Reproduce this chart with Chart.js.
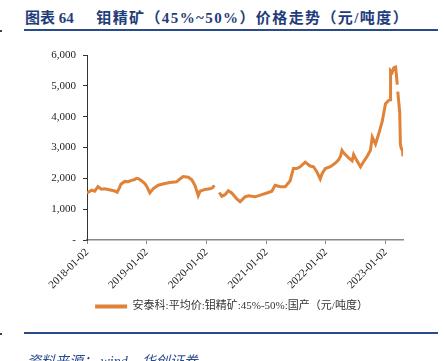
<!DOCTYPE html>
<html>
<head>
<meta charset="utf-8">
<script src="https://cdn.jsdelivr.net/npm/chart.js@4/dist/chart.umd.min.js"></script>
<style>
  html, body { margin: 0; padding: 0; background: #fff; }
  body { width: 444px; height: 361px; position: relative; overflow: hidden; }
  #wrap { position: absolute; left: 0; top: 0; width: 444px; height: 361px; }
  .title { position: absolute; left: 25px; top: 6px; font: bold 15px "Liberation Serif", "Noto Sans CJK SC", serif; color: #1F3D7A; white-space: pre; }
  .title .rest { letter-spacing: 1.4px; }
  .rule { position: absolute; left: 24px; width: 414px; height: 2px; background: #2A4B8A; }
  .mark { position: absolute; left: 0; width: 2px; height: 2px; background: #33415f; }
  .source { position: absolute; left: 27px; top: 350px; font: italic 14px "Liberation Serif", "Noto Sans CJK SC", serif; color: #2A4B8A; white-space: pre; }
</style>
</head>
<body>
<div class="title">图表 64      <span class="rest">钼精矿（45%~50%）价格走势（元/吨度）</span></div>
<div class="rule" style="top:29px"></div>
<div class="mark" style="top:30px"></div>
<div id="wrap"><canvas id="c"></canvas></div>
<div class="rule" style="top:332px"></div>
<div class="mark" style="top:333px"></div>
<div class="source">资料来源： wind，华创证券</div>
<script>
// ---- data ----
const seriesName = '安泰科:平均价:钼精矿:45%-50%:国产（元/吨度）';
const dates = [
 '2018-01-02','2018-01-12','2018-01-31','2018-02-18','2018-03-10','2018-03-31','2018-04-20','2018-05-11','2018-06-01','2018-06-20',
 '2018-07-05','2018-07-20','2018-07-28','2018-08-21','2018-09-10','2018-10-01','2018-10-20','2018-11-01','2018-11-15','2018-12-01',
 '2018-12-20','2019-01-01','2019-01-21','2019-02-10','2019-03-13','2019-04-23','2019-05-24','2019-07-04','2019-07-24','2019-08-13',
 '2019-09-13','2019-10-04','2019-10-24','2019-11-13','2019-11-24','2019-12-24','2020-01-24','2020-02-10','2020-02-19','2020-03-05',
 '2020-03-21','2020-04-05','2020-04-25','2020-05-15','2020-06-05','2020-07-06','2020-07-26','2020-08-25','2020-09-15','2020-10-26',
 '2020-12-06','2021-01-15','2021-02-05','2021-02-25','2021-03-28','2021-04-28','2021-05-28','2021-06-17','2021-07-08','2021-07-28',
 '2021-08-28','2021-09-27','2021-10-18','2021-11-08','2021-11-28','2021-12-09','2021-12-29','2022-01-29','2022-02-28','2022-03-20',
 '2022-04-01','2022-04-10','2022-04-20','2022-05-21','2022-06-11','2022-06-20','2022-07-01','2022-08-01','2022-08-21','2022-09-11',
 '2022-10-01','2022-10-12','2022-11-01','2022-11-21','2022-12-12','2023-01-01','2023-01-22','2023-01-29','2023-02-01','2023-02-11',
 '2023-02-21','2023-03-04','2023-03-14','2023-03-15','2023-03-17','2023-03-29','2023-04-02','2023-04-06','2023-04-15','2023-04-18'
];
const values = [
 1520,1560,1616,1582,1729,1650,1660,1640,1616,1590,
 1548,1700,1810,1900,1890,1933,1960,2001,1985,1923,
 1840,1752,1525,1661,1776,1830,1865,1888,1980,2059,
 2035,1957,1776,1440,1582,1640,1661,1700,1776,null,
 1540,1420,1470,1600,1525,1330,1242,1400,1436,1400,
 1470,1540,1582,1776,1729,1729,1923,2320,2320,2375,
 2525,2400,2375,2205,1980,2150,2320,2375,2490,2603,
 2716,2909,2830,2660,2569,2773,2660,2375,2545,2716,
 2909,3340,3113,3453,3850,4418,4532,4550,5496,5439,
 5587,5609,5041,null,4815,4134,3113,3000,2886,2716
];
const xTickDates = ['2018-01-02','2019-01-02','2020-01-02','2021-01-02','2022-01-02','2023-01-02'];
const xTickLabels = ['2018-01-02','2019-01-02','2020-01-02','2021-01-02','2022-01-02','2023-01-02'];
const yTickValues = [0,1000,2000,3000,4000,5000,6000];
const yTickLabels = ['-','1,000','2,000','3,000','4,000','5,000','6,000'];

// ---- helpers ----
const base = Date.UTC(2018,0,2);
const dayOf = s => { const p = s.split('-').map(Number); return (Date.UTC(p[0],p[1]-1,p[2]) - base) / 86400000; };
const points = dates.map((d,i) => ({x: dayOf(d), y: values[i]}));
const xTickVals = xTickDates.map(dayOf);
const lineColor = '#E08237';
const serif = '"Liberation Serif", "Times New Roman", serif';

new Chart(document.getElementById('c'), {
  type: 'line',
  data: { datasets: [{
    label: seriesName,
    data: points,
    borderColor: lineColor,
    backgroundColor: lineColor,
    borderWidth: 3,
    pointRadius: 0,
    tension: 0,
    spanGaps: false
  }]},
  options: {
    responsive: true,
    maintainAspectRatio: false,
    animation: false,
    devicePixelRatio: 1,
    layout: { padding: { left: 60, right: 41, top: 55, bottom: 39 } },
    plugins: {
      tooltip: { enabled: false },
      legend: {
        position: 'bottom',
        labels: {
          boxWidth: 32, boxHeight: 4, padding: 6, color: '#333',
          font: { family: '"Liberation Serif", "Noto Sans CJK SC", serif', size: 11 },
          generateLabels: (chart) => {
            const items = Chart.defaults.plugins.legend.labels.generateLabels(chart);
            items.forEach(it => { it.lineWidth = 0; it.fillStyle = lineColor; it.strokeStyle = lineColor; });
            return items;
          }
        }
      }
    },
    scales: {
      x: {
        type: 'linear',
        min: 0,
        max: dayOf(dates[dates.length-1]),
        afterBuildTicks: (s) => { s.ticks = xTickVals.map(v => ({value: v})); },
        afterFit: (s) => { s.height = 55; },
        ticks: {
          autoSkip: false, minRotation: 45, maxRotation: 45, padding: 2, color: '#222',
          font: { family: serif, size: 11 },
          callback: (v) => { const i = xTickVals.indexOf(v); return i >= 0 ? xTickLabels[i] : ''; }
        },
        grid: { drawOnChartArea: false, drawTicks: true, tickLength: 4, color: '#888', lineWidth: 1 },
        border: { display: true, color: '#888', width: 1.5 }
      },
      y: {
        min: 0, max: 6000,
        afterBuildTicks: (s) => { s.ticks = yTickValues.map(v => ({value: v})); },
        afterFit: (s) => { s.width = 27; s._computeLabelArea = () => null; },
        ticks: {
          padding: 7, color: '#222',
          font: { family: serif, size: 11 },
          callback: (v) => { const i = yTickValues.indexOf(v); return i >= 0 ? yTickLabels[i] : ''; }
        },
        grid: { drawOnChartArea: false, drawTicks: true, tickLength: 4, color: '#333', lineWidth: 1 },
        border: { display: true, color: '#333', width: 1 }
      }
    }
  }
});
</script>
</body>
</html>
